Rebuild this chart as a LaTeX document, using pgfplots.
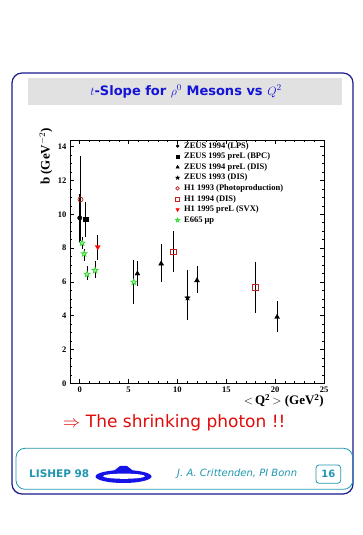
\documentclass[border=0pt]{standalone}
\usepackage{fontspec}
\setmainfont{Liberation Serif}
\newfontfamily\slidefont{DejaVu Sans}
\usepackage{pgfplots}
\pgfplotsset{compat=1.18}
\definecolor{navy}{RGB}{25,25,140}
\definecolor{titleblue}{RGB}{20,20,215}
\definecolor{slidered}{RGB}{225,10,10}
\definecolor{tealc}{RGB}{30,150,175}
\definecolor{band}{RGB}{225,225,225}
\definecolor{hred}{RGB}{200,30,30}
\definecolor{egreen}{RGB}{50,215,50}
\definecolor{logoblue}{RGB}{20,20,230}

\pgfdeclareplotmark{fivestar}{%
  \pgfpathmoveto{\pgfpointpolar{90}{\pgfplotmarksize}}%
  \pgfpathlineto{\pgfpointpolar{126}{0.42\pgfplotmarksize}}%
  \pgfpathlineto{\pgfpointpolar{162}{\pgfplotmarksize}}%
  \pgfpathlineto{\pgfpointpolar{198}{0.42\pgfplotmarksize}}%
  \pgfpathlineto{\pgfpointpolar{234}{\pgfplotmarksize}}%
  \pgfpathlineto{\pgfpointpolar{270}{0.42\pgfplotmarksize}}%
  \pgfpathlineto{\pgfpointpolar{306}{\pgfplotmarksize}}%
  \pgfpathlineto{\pgfpointpolar{342}{0.42\pgfplotmarksize}}%
  \pgfpathlineto{\pgfpointpolar{18}{\pgfplotmarksize}}%
  \pgfpathlineto{\pgfpointpolar{54}{0.42\pgfplotmarksize}}%
  \pgfpathclose
  \pgfusepathqfillstroke
}

\pgfplotsset{eb/.style={error bars/.cd, y dir=both, y explicit, error mark=none,
  error bar style={black, line width=0.7pt}}}

\begin{document}
\begin{tikzpicture}[x=1pt,y=1pt]
\path[use as bounding box] (0,0) rectangle (363,535);
% slide frame
\draw[navy, line width=1.2pt, rounded corners=10pt] (12,462) rectangle (353,41);
\fill[band] (28,456.7) rectangle (342,430);
\node[font=\slidefont\bfseries\fontsize{13}{15}\selectfont, text=titleblue] at (186,443.5)
  {$t$-Slope for $\rho^0$ Mesons vs $Q^2$};

\begin{axis}[
  scale only axis, width=254pt, height=243.3pt,
  at={(70pt,151.7pt)}, anchor=south west,
  xmin=-1, xmax=25, ymin=0, ymax=14.4,
  xtick={0,5,10,15,20,25}, xticklabels={0,5,10,15,20,\raisebox{3pt}{25}},
  ytick={0,2,4,6,8,10,12,14}, yticklabels={0,2,4,6,8,10,12,14},
  minor x tick num=4, minor y tick num=3,
  tick align=inside, major tick length=4pt, minor tick length=2.3pt,
  tick style={black, line width=0.6pt},
  axis line style={line width=0.8pt},
  ticklabel style={font=\fontsize{8.5}{9}\selectfont\bfseries},
  xlabel={$<$\,Q\textsuperscript{2}\,$>$ (GeV\textsuperscript{2})},
  xlabel style={font=\fontsize{13}{14}\selectfont\bfseries, at={(rel axis cs:1,-0.045)}, anchor=north east, inner sep=0pt},
  ylabel={b (GeV$^{-2}$)},
  ylabel style={font=\fontsize{13}{14}\selectfont\bfseries, at={(rel axis cs:-0.095,0.815)}, anchor=west, rotate=0, inner sep=0pt},
  legend style={at={(rel axis cs:0.415,0.998)}, anchor=north west, draw=none, fill=none,
    inner sep=0pt, font=\fontsize{8.5}{9}\selectfont\bfseries,
    nodes={inner sep=1.5pt, text height=6pt, text depth=1.6pt}, cells={anchor=west},
    /tikz/every odd column/.append style={column sep=3pt}},
  legend image code/.code={\draw[mark repeat=2, mark phase=2, #1, every mark/.append style={scale=0.7}] plot coordinates {(0pt,0pt)(4pt,0pt)(8pt,0pt)};},
]
% ZEUS 1994 (LPS)
\addplot[only marks, mark=*, mark size=2.2pt, black, eb] coordinates {
  (0.0,9.79) += (0,1.4) -= (0,1.4)
};
\addlegendentry{ZEUS 1994 (LPS)}
% ZEUS 1995 prel (BPC)
\addplot[only marks, mark=square*, mark size=2.4pt, black, eb] coordinates {
  (0.58,9.71) += (0,1.03) -= (0,1.05)
};
\addlegendentry{ZEUS 1995 preL (BPC)}
% ZEUS 1994 prel (DIS)
\addplot[only marks, mark=triangle*, mark size=2.8pt, black, eb] coordinates {
  (5.9,6.49) += (0,0.75) -= (0,0.74)
  (8.33,7.08) += (0,1.15) -= (0,1.09)
  (12.0,6.09) += (0,0.83) -= (0,0.75)
  (20.2,3.92) += (0,0.98) -= (0,0.89)
};
\addlegendentry{ZEUS 1994 preL (DIS)}
% ZEUS 1993 (DIS)
\addplot[only marks, mark=fivestar, mark size=2.8pt, black, eb] coordinates {
  (11.03,5.06) += (0,1.62) -= (0,1.30)
};
\addlegendentry{ZEUS 1993 (DIS)}
% H1 1993 (Photoproduction)
\addplot[only marks, mark=o, mark size=2.5pt, hred, mark options={fill=white, line width=0.7pt}, eb] coordinates {
  (0.07,10.88) += (0,2.6) -= (0,2.45)
};
\addlegendentry{H1 1993 (Photoproduction)}
% H1 1994 (DIS)
\addplot[only marks, mark=square, mark size=2.8pt, hred, mark options={fill=white, line width=0.7pt}, eb] coordinates {
  (9.56,7.79) += (0,1.21) -= (0,1.21)
  (18.0,5.69) += (0,1.51) -= (0,1.52)
};
\addlegendentry{H1 1994 (DIS)}
% H1 1995 prel (SVX)
\addplot[only marks, mark=triangle*, mark size=2.8pt, red, mark options={rotate=180}, eb] coordinates {
  (1.84,8.07) += (0,0.73) -= (0,0.79)
};
\addlegendentry{H1 1995 preL (SVX)}
% E665 mu p
\addplot[only marks, mark=fivestar, mark size=3pt, egreen, mark options={fill=egreen!35, line width=0.7pt}, eb] coordinates {
  (0.24,8.30) += (0,0.35) -= (0,0.35)
  (0.45,7.67) += (0,0.30) -= (0,0.43)
  (0.75,6.45) += (0,0.47) -= (0,0.36)
  (1.57,6.68) += (0,0.56) -= (0,0.43)
  (5.53,5.99) += (0,1.29) -= (0,1.28)
};
\addlegendentry{E665 μp}
\end{axis}

% conclusion
\node[anchor=base west, font=\slidefont\fontsize{17}{19}\selectfont, text=slidered, inner sep=0pt] at (63,107.7)
  {$\Rightarrow$ The shrinking photon !!};

% footer
\draw[tealc, line width=0.8pt, rounded corners=9pt] (16,86.7) rectangle (352.7,45.7);
\node[anchor=west, font=\slidefont\bfseries\fontsize{10.5}{12}\selectfont, text=tealc, inner sep=0pt] at (29,61.5) {LISHEP 98};
\fill[logoblue] (123.5,58.5) ellipse [x radius=28, y radius=6.5];
\fill[logoblue] (113,63.5) -- (120,69) -- (127,69) -- (134,63.5) -- cycle;
\fill[white] (124,58.8) ellipse [x radius=21, y radius=2.6];
\node[anchor=west, font=\slidefont\itshape\fontsize{10}{12}\selectfont, text=tealc, inner sep=0pt] at (177,61.5) {J. A. Crittenden, PI Bonn};
\draw[tealc, line width=0.8pt, rounded corners=3pt] (316,70) rectangle (340.7,51.7);
\node[font=\slidefont\bfseries\fontsize{10}{12}\selectfont, text=tealc] at (328.4,60.8) {16};
\end{tikzpicture}
\end{document}
